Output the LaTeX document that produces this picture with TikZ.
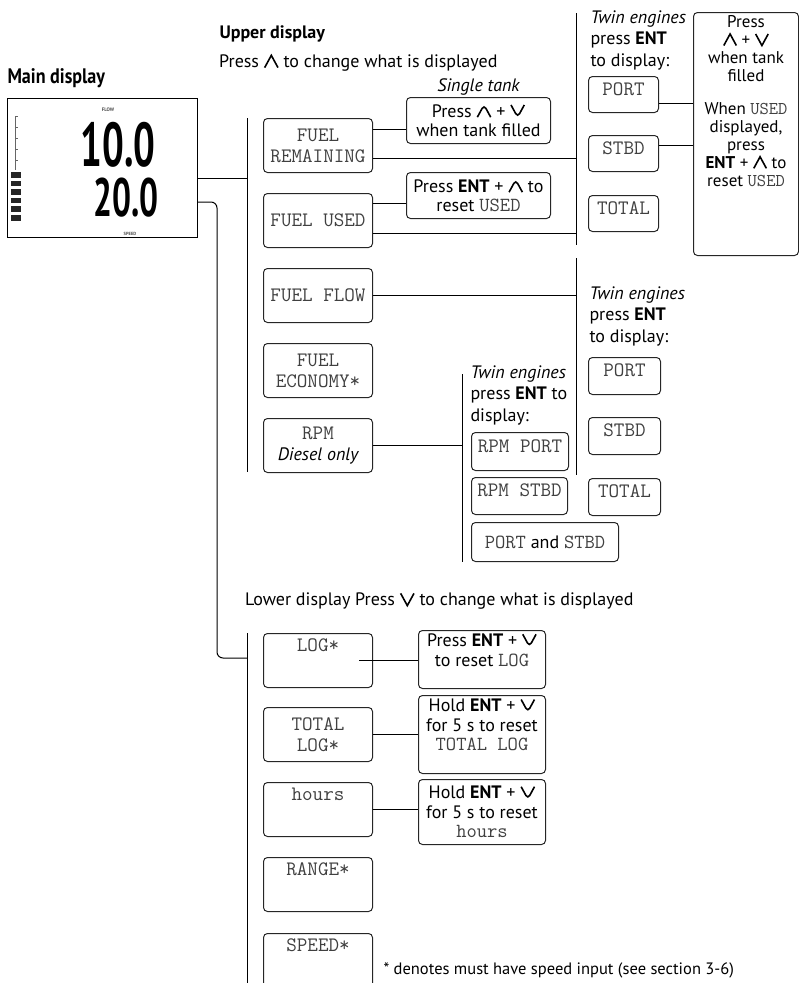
\documentclass[tikz,border=0pt]{standalone}
\usepackage{fontspec}
\setmainfont{PT Sans}
\newfontfamily\condfont[FakeStretch=0.86]{PT Sans}
\newfontfamily\lcdfont[FakeStretch=0.62]{PT Sans}
\usetikzlibrary{positioning}

% key glyphs drawn as chevrons
\newcommand\upkey{\tikz[baseline=0pt]\draw[line width=1.6pt] (0,0) -- (0.37em,0.68em) -- (0.74em,0);}
\newcommand\downkey{\tikz[baseline=0pt]\draw[line width=1.6pt] (0,0.68em) -- (0.37em,0) -- (0.74em,0.68em);}
\newcommand\kw[1]{{\fontsize{20}{21}\ttfamily\color{black!75}#1}}

\begin{document}
\begin{tikzpicture}[x=1pt,y=-1pt,line width=1pt,
    txt/.style={inner sep=0pt,align=left,font=\fontsize{18}{21.5}\selectfont},
    note/.style={draw=black!85,line width=1pt,rounded corners=4pt,anchor=north west,
        inner sep=1pt,align=center,font=\fontsize{18}{19.5}\selectfont},
    modebox/.style={note,minimum width=109pt,minimum height=54pt,
        font=\fontsize{20.5}{21}\ttfamily,text=black!75},
    twinbox/.style={modebox,minimum width=70pt,minimum height=36pt,text height=12.5pt,text depth=11.5pt},
    lowbox/.style={modebox,text height=12.5pt,text depth=30pt}]
\useasboundingbox (0,0) rectangle (799,983);

% main display
\node[anchor=west,inner sep=0pt,font=\fontsize{21}{22}\condfont\bfseries] (maintitle) at (7,78) {Main display};
\node[draw,line width=1pt,minimum width=190pt,minimum height=139pt,anchor=north west,inner sep=0pt] (lcd) at (7,98) {};
\draw[black!60,line width=0.6pt] (15,116) -- (15,170);
\foreach \t in {116,127,...,170}
    \draw[black!60,line width=0.6pt] (15,\t) -- (18,\t);
\foreach \b in {0,...,5}
    \fill[black!85] (11,{172+\b*8.6}) rectangle (21,{177.5+\b*8.6});
\node[inner sep=0pt,font=\fontsize{62}{62}\lcdfont\bfseries] (upval) at (118,145) {10.0};
\node[inner sep=0pt,font=\fontsize{54}{54}\lcdfont\bfseries] (lowval) at (126,198) {20.0};
\node[inner sep=0pt,font=\fontsize{5}{5}\selectfont\bfseries,text=black!70] (flowlbl) at (108,110) {FLOW};
\node[inner sep=0pt,font=\fontsize{4.5}{5}\selectfont\bfseries,text=black!70] (speedlbl) at (130,234) {SPEED};

% upper display
\node[txt,anchor=west,font=\fontsize{18}{20}\selectfont\bfseries] (uptitle) at (219,34) {Upper display};
\node[txt,anchor=west] (uphint) at (219,63) {Press \upkey{} to change what is displayed};

\node[modebox] (fuelrem) at (263,118) {FUEL\\REMAINING};
\node[modebox] (fuelused) at (263,193) {FUEL USED};
\node[modebox] (fuelflow) at (263,268) {FUEL FLOW};
\node[modebox] (fueleco) at (263,343) {FUEL\\ECONOMY*};
\node[modebox] (rpm) at (263,418) {RPM\\{\fontsize{18}{19}\rmfamily\itshape\color{black}Diesel only}};

\node[note,minimum width=144pt,minimum height=46pt] (tankfill) at (406,97) {Press \upkey{} + \downkey\\when tank filled};
\node[txt,above=1pt of tankfill,font=\fontsize{18}{20}\selectfont\itshape] (singletank) {Single tank};
\node[note,minimum width=144pt,minimum height=46pt] (resetused) at (406,172) {Press \textbf{ENT} + \upkey{} to\\reset \kw{USED}};

\coordinate (ubustop) at (247,118);
\coordinate (ubusbot) at (247,472);
\draw (ubustop) -- (ubusbot);
\draw (lcd.east |- 0,178) -- (ubustop |- 0,178);

\draw (fuelrem.east |- 0,129) -- (tankfill.west |- 0,129);
\draw (fuelused.east |- 0,203) -- (resetused.west |- 0,203);

% twin engines, fuel
\coordinate (rbusatop) at (576,13);
\coordinate (rbusabot) at (576,245);
\draw (rbusatop) -- (rbusabot);
\draw (fuelrem.east |- 0,158) -- (rbusatop |- 0,158);
\draw (fuelused.east |- 0,233) -- (rbusatop |- 0,233);

\node[txt,anchor=north west] (twina) at (590,10) {\textit{Twin engines}\\press \textbf{ENT}\\to display:};
\node[twinbox] (porta) at (588,76) {PORT};
\node[twinbox] (stbda) at (588,135) {STBD};
\node[twinbox] (totala) at (588,195) {TOTAL};

\node[note,minimum width=105pt,minimum height=243pt] (bignote) at (693,12) {};
\node[txt,align=center,anchor=north,font=\fontsize{17}{17.8}\selectfont] (bignotetxt) at ([yshift=-3.5pt]bignote.north)
    {Press\\\upkey{} + \downkey\\when tank\\filled\\[16pt]When {\fontsize{18}{18}\ttfamily\color{black!75}USED}\\displayed,\\press\\\textbf{ENT} + \upkey{} to\\reset {\fontsize{18}{18}\ttfamily\color{black!75}USED}};
\coordinate (pa) at ([yshift=-9pt]porta.east);
\coordinate (sa) at ([yshift=8.5pt]stbda.east);
\draw (pa) -- (pa -| bignote.west);
\draw (sa) -- (sa -| bignote.west);

% twin engines, flow
\coordinate (rbusbtop) at (576,258);
\coordinate (rbusbbot) at (576,475);
\draw (rbusbtop) -- (rbusbbot);
\draw (fuelflow.east) -- (fuelflow.east -| rbusbtop);

\node[txt,anchor=north west] (twinb) at (589,286) {\textit{Twin engines}\\press \textbf{ENT}\\to display:};
\node[twinbox,minimum width=72pt,minimum height=37pt] (portb) at (588,357) {PORT};
\node[twinbox,minimum width=72pt,minimum height=37pt] (stbdb) at (588,417) {STBD};
\node[twinbox,minimum width=72pt,minimum height=37pt] (totalb) at (588,478) {TOTAL};

% twin engines, rpm
\coordinate (rpmbustop) at (462,374);
\coordinate (rpmbusbot) at (462,562);
\draw (rpmbustop) -- (rpmbusbot);
\draw (rpm.east) -- (rpm.east -| rpmbustop);

\node[txt,anchor=north west] (twinc) at (470,365) {\textit{Twin engines}\\press \textbf{ENT} to\\display:};
\node[twinbox,minimum width=97pt,minimum height=38pt] (rpmport) at (471,432) {RPM PORT};
\node[twinbox,minimum width=96pt,minimum height=37pt] (rpmstbd) at (471,477) {RPM STBD};
\node[note,minimum width=147pt,minimum height=39pt] (portstbd) at (471,522) {\kw{PORT} and \kw{STBD}};

% lower display
\node[txt,anchor=west] (lowhint) at (245,601) {Lower display Press \downkey{} to change what is displayed};

\coordinate (lbustop) at (247,633);
\coordinate (lbusbot) at (247,983);
\draw (lbustop) -- (lbusbot);
\draw[rounded corners=6pt] (lcd.east |- 0,202) -- (217,202) -- (217,658) -- (lbustop |- 0,658);

\node[lowbox] (log) at (263,633) {LOG*};
\node[modebox] (totallog) at (263,707) {TOTAL\\LOG*};
\node[lowbox] (hours) at (263,782) {hours};
\node[lowbox] (range) at (263,857) {RANGE*};
\node[lowbox] (speed) at (263,933) {SPEED*};

\node[note,minimum width=127pt,minimum height=58pt] (logreset) at (418,630) {Press \textbf{ENT} + \downkey\\to reset \kw{LOG}\\~};
\node[note,minimum width=127pt,minimum height=78pt] (totalreset) at (418,695) {Hold \textbf{ENT} + \downkey\\for 5 s to reset\\\kw{TOTAL LOG}\\~};
\node[note,minimum width=127pt,minimum height=65pt] (hoursreset) at (418,779) {Hold \textbf{ENT} + \downkey\\for 5 s to reset\\\kw{hours}};

\draw ([xshift=-14pt]log.east) -- (log.east -| logreset.west);
\draw (totallog.east) -- (totallog.east -| totalreset.west);
\draw (hours.east) -- (hours.east -| hoursreset.west);

\node[txt,anchor=west,font=\fontsize{16.5}{20}\selectfont] (footnote) at (383,970) {* denotes must have speed input (see section 3-6)};
\end{tikzpicture}
\end{document}
